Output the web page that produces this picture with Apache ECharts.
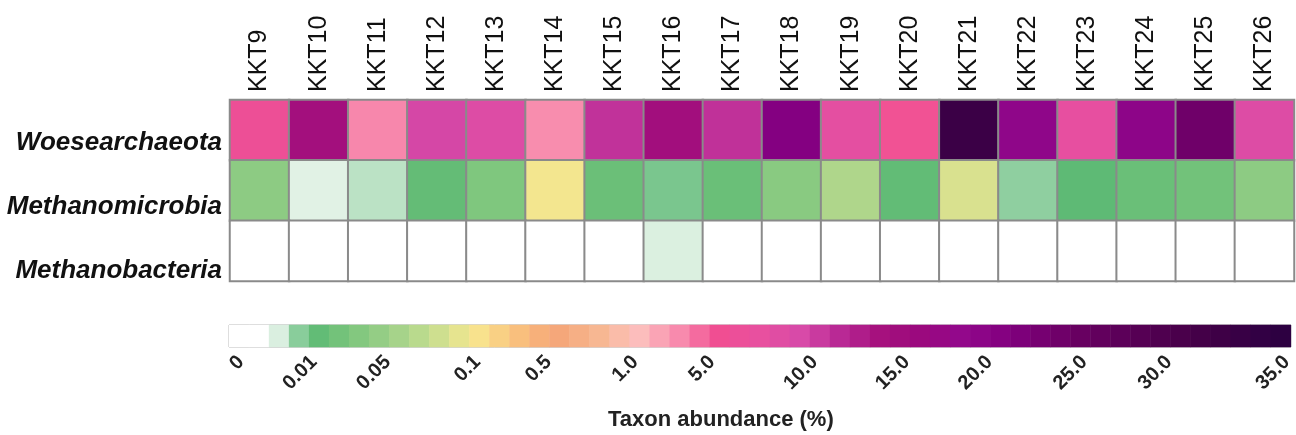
<!DOCTYPE html>
<html><head><meta charset="utf-8">
<script src="https://cdn.jsdelivr.net/npm/echarts@6/dist/echarts.min.js"></script>
<style>html,body{margin:0;padding:0;background:#fff}#c{width:1296px;height:435px}</style>
</head><body><div id="c"></div>
<script>
// ---- data ----
const samples = ['KKT9','KKT10','KKT11','KKT12','KKT13','KKT14','KKT15','KKT16','KKT17','KKT18','KKT19','KKT20','KKT21','KKT22','KKT23','KKT24','KKT25','KKT26'];
const taxa = ['Woesearchaeota','Methanomicrobia','Methanobacteria'];
const woesearchaeota = [6.0,14.0,3.4,9.5,8.7,3.2,10.8,14.3,10.9,20.7,7.8,5.2,32.7,19.0,7.5,19.3,23.8,8.7];
const methanomicrobia = [0.041,0.005,0.0063,0.014,0.032,0.096,0.019,0.0085,0.018,0.038,0.062,0.013,0.084,0.0078,0.010,0.018,0.023,0.041];
const methanobacteria = [0,0,0,0,0,0,0,0.0052,0,0,0,0,0,0,0,0,0,0];
// colour-scale tick labels and their (non-linear) breakpoints along the scale
const scaleTickLabels = ['0','0.01','0.05','0.1','0.5','1.0','5.0','10.0','15.0','20.0','25.0','30.0','35.0'];
const scaleTickValues = [0,0.01,0.05,0.1,0.5,1,5,10,15,20,25,30,35];
const scaleBreaks = [0.0113,0.0799,0.1494,0.2340,0.3008,0.3825,0.4549,0.5517,0.6382,0.7162,0.8055,0.8853,0.9962];
const scaleColors = ['#ffffff','#ffffff','#5bb974','#7dc67d','#9fd189','#c6de8f','#f8e78f','#f9c27e','#f5a578',
  '#f7b68f','#fcc0bd','#f88cae','#f04e92','#e8509f','#d84aa8','#b82894','#a5107d','#9a087e','#92088c',
  '#830080','#74006f','#66005f','#5a0058','#4d004d','#420047','#350045','#2b0040'];
const rampSteps = 53;

function toScale(v){
  if (v <= scaleTickValues[0]) return scaleBreaks[0];
  for (let i = 1; i < scaleTickValues.length; i++){
    if (v <= scaleTickValues[i]){
      const a = scaleTickValues[i-1], b = scaleTickValues[i];
      return scaleBreaks[i-1] + (v - a) / (b - a) * (scaleBreaks[i] - scaleBreaks[i-1]);
    }
  }
  return scaleBreaks[scaleBreaks.length-1];
}

const rows = [woesearchaeota, methanomicrobia, methanobacteria];
const cells = [];
rows.forEach((arr, r) => arr.forEach((v, c) => cells.push([c, r, toScale(v), v])));
const rampCats = [], ramp = [];
for (let i = 0; i < rampSteps; i++){ rampCats.push(String(i)); ramp.push([i, 0, (i + 0.5) / rampSteps]); }

const FONT = 'Liberation Sans, Arial, sans-serif';
const rowLabelStyle = (pad) => ({ fontSize: 26, fontWeight: 'bold', fontStyle: 'italic', color: '#111', fontFamily: FONT, padding: [pad, 0, 0, 0] });
const chart = echarts.init(document.getElementById('c'));
chart.setOption({
  animation: false,
  backgroundColor: '#ffffff',
  textStyle: { fontFamily: FONT },
  title: { text: 'Taxon abundance (%)', left: 603, top: 404,
    textStyle: { fontSize: 22, fontWeight: 'bold', color: '#222', fontFamily: FONT } },
  grid: [
    { left: 230, right: 2, top: 100, height: 181 },
    { left: 229, right: 3, top: 325, height: 22, show: true, borderColor: '#a8a8a8', borderWidth: 1, backgroundColor: 'transparent' }
  ],
  xAxis: [
    { type: 'category', data: samples, gridIndex: 0, position: 'top',
      axisLine: { show: false }, axisTick: { show: false }, splitLine: { show: false },
      axisLabel: { rotate: -90, fontSize: 25, color: '#111', margin: 8, fontFamily: FONT } },
    { type: 'category', data: rampCats, gridIndex: 1, show: false },
    { type: 'value', gridIndex: 1, min: 0, max: 1, position: 'bottom',
      axisLine: { show: false }, axisTick: { show: false }, splitLine: { show: false },
      axisLabel: { customValues: scaleBreaks, rotate: 45, fontSize: 20, fontWeight: 'bold', color: '#222', margin: 12, fontFamily: FONT,
        formatter: function (v) {
          let best = 0, d = Infinity;
          scaleBreaks.forEach((p, i) => { if (Math.abs(p - v) < d) { d = Math.abs(p - v); best = i; } });
          return scaleTickLabels[best];
        } } }
  ],
  yAxis: [
    { type: 'category', data: taxa, inverse: true, gridIndex: 0,
      axisLine: { show: false }, axisTick: { show: false }, splitLine: { show: false },
      axisLabel: { margin: 8, fontFamily: FONT,
        formatter: function (v, i) { return '{r' + i + '|' + v + '}'; },
        rich: { r0: rowLabelStyle(26), r1: rowLabelStyle(32), r2: rowLabelStyle(40) } } },
    { type: 'category', data: [''], gridIndex: 1, show: false }
  ],
  visualMap: { type: 'continuous', show: false, min: 0, max: 1, dimension: 2, seriesIndex: [0, 1],
    inRange: { color: scaleColors } },
  series: [
    { type: 'heatmap', xAxisIndex: 0, yAxisIndex: 0, data: cells,
      itemStyle: { borderColor: '#8a8a8a', borderWidth: 2 }, emphasis: { disabled: true } },
    { type: 'heatmap', xAxisIndex: 1, yAxisIndex: 1, data: ramp, emphasis: { disabled: true } }
  ]
});
</script>
</body></html>
